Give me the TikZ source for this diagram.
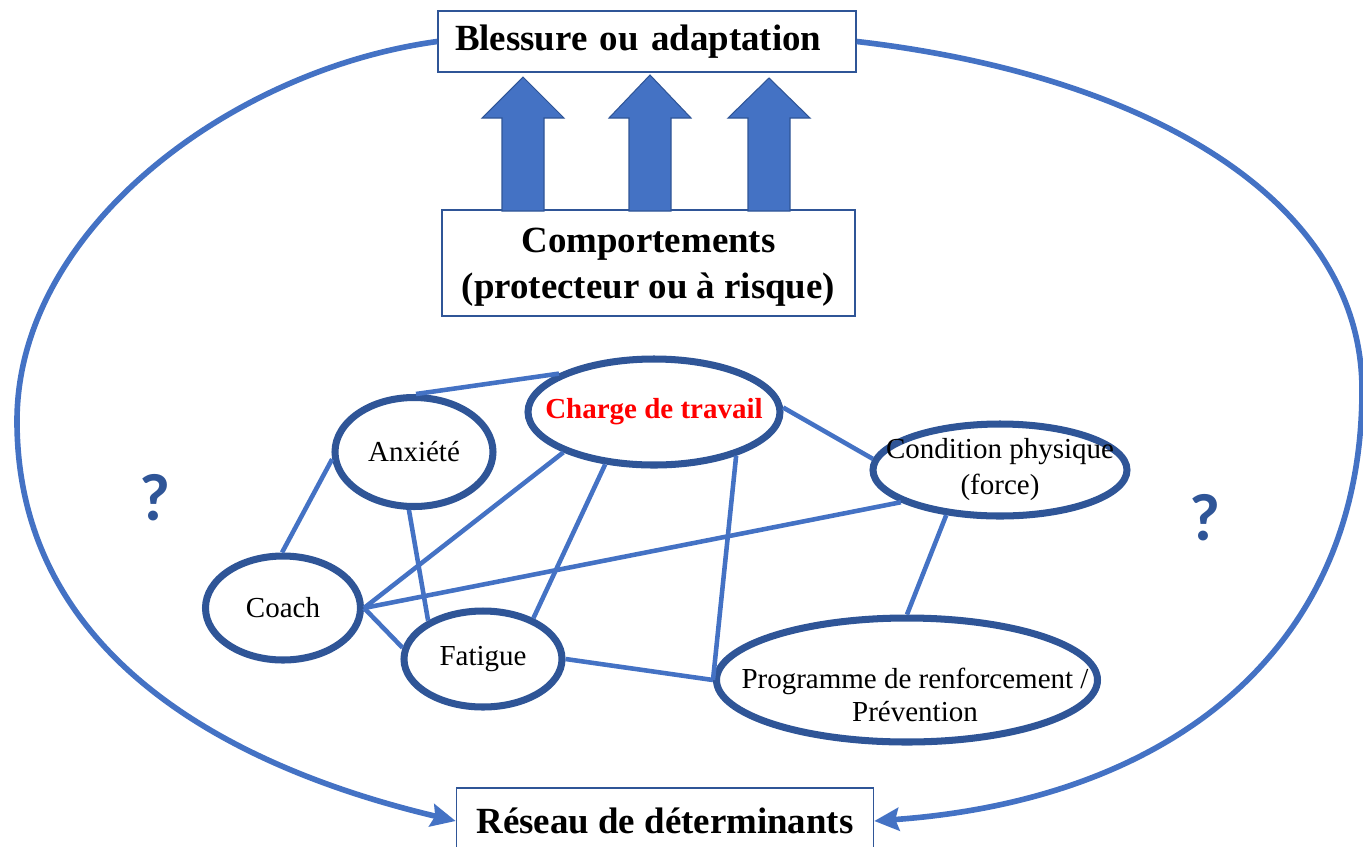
\documentclass[tikz,border=0pt]{standalone}
\usepackage{fontspec}
\setmainfont{Liberation Serif}
\newfontfamily\qfont{Carlito}
\usepackage{tikz}
\usetikzlibrary{arrows.meta, positioning, shapes.geometric}

\definecolor{lineblue}{HTML}{4472C4}
\definecolor{frameblue}{HTML}{2F5597}

\tikzset{
	titlebox/.style={draw=frameblue, line width=0.9pt, fill=white, inner sep=0pt, align=center,
		font=\fontsize{21}{26}\selectfont\bfseries},
	det/.style={ellipse, draw=frameblue, line width=4pt, fill=white, inner sep=0pt},
	dettext/.style={align=center, inner sep=0pt, font=\fontsize{16.5}{20.5}\selectfont},
	detlink/.style={lineblue, line width=2.6pt},
	cycleline/.style={lineblue, line width=3.2pt, -{Stealth[length=14pt, width=13pt, inset=2pt]}},
	blockarrow/.style={fill=lineblue, draw=frameblue, line width=0.6pt},
	qmark/.style={text=frameblue, inner sep=0pt, font=\qfont\bfseries\fontsize{38}{40}\selectfont}
}

\begin{document}
\begin{tikzpicture}[x=0.02cm, y=-0.02cm]
	\useasboundingbox (0,0) rectangle (1363,846);
	\clip (0,0) rectangle (1363,846);

	% Boxes
	\node[titlebox, minimum width=418*0.02cm, minimum height=61*0.02cm, text width=384*0.02cm,
		align=left, inner xsep=17*0.02cm] (blessure) at (647,41.5) {Blessure ou adaptation};
	\node[titlebox, minimum width=413*0.02cm, minimum height=106*0.02cm,
		label={[align=center, font=\fontsize{21}{26}\selectfont\bfseries, yshift=-0.08cm]center:{Comportements\\(protecteur ou à risque)}}] (comport) at (648.5,263) {};
	\node[titlebox, minimum width=417*0.02cm, minimum height=66*0.02cm] (reseau) at (665,821) {Réseau de déterminants};

	% Block arrows
	\foreach \cx/\tip in {523/77, 650/75, 769/78}
		\draw[blockarrow] ({\cx-21},211) -- ({\cx-21},118) -- ({\cx-41},118) -- (\cx,\tip)
			-- ({\cx+41},118) -- ({\cx+21},118) -- ({\cx+21},211) -- cycle;

	% Outer cycle
	\draw[cycleline] (blessure.west) .. controls (230,70) and (17,230) .. (17,421)
		.. controls (17,650) and (220,765) .. (reseau.west);
	\draw[cycleline] (blessure.east) .. controls (1147,75) and (1362,200) .. (1362,390)
		.. controls (1362,650) and (1170,800) .. (reseau.east);

	% Determinants
	\node[det, minimum width=158*0.02cm, minimum height=109*0.02cm,
		label={[dettext]center:Anxiété}] (anx) at (414,452) {};
	\node[det, minimum width=252*0.02cm, minimum height=106*0.02cm,
		label={[dettext, text=red, font=\fontsize{16.5}{20.5}\selectfont\bfseries]center:Charge de travail}] (charge) at (654,412) {};
	\node[det, minimum width=254*0.02cm, minimum height=92*0.02cm,
		label={[dettext]center:{Condition physique\\(force)}}] (cond) at (1000,470) {};
	\node[det, minimum width=155*0.02cm, minimum height=104*0.02cm,
		label={[dettext]center:Coach}] (coach) at (283,608) {};
	\node[det, minimum width=158*0.02cm, minimum height=96*0.02cm,
		label={[dettext]center:Fatigue}] (fat) at (483,659) {};
	\node[det, minimum width=381*0.02cm, minimum height=124*0.02cm,
		label={[dettext, font=\fontsize{16.5}{19}\selectfont, xshift=0.16cm, yshift=-0.3cm]center:{Programme de renforcement /\\Prévention}}] (prog) at (907,680) {};

	% Links
	\draw[detlink] (anx.88) -- (charge.158);
	\draw[detlink] (anx.185) -- (coach.91);
	\draw[detlink] (anx.265) -- (fat.145);
	\draw[detlink] (charge.204) -- (coach.0);
	\draw[detlink] (charge.227) -- (fat.39);
	\draw[detlink] (charge.332) -- (prog.180);
	\draw[detlink] (charge.2) -- (cond.175);
	\draw[detlink] (cond.198) -- (coach.0);
	\draw[detlink] (cond.220) -- (prog.90);
	\draw[detlink] (coach.0) -- (fat.172);
	\draw[detlink] (fat.0) -- (prog.180);

	% Question marks
	\node[qmark] (qleft) at (155,498) {?};
	\node[qmark] (qright) at (1205,518) {?};
\end{tikzpicture}
\end{document}
